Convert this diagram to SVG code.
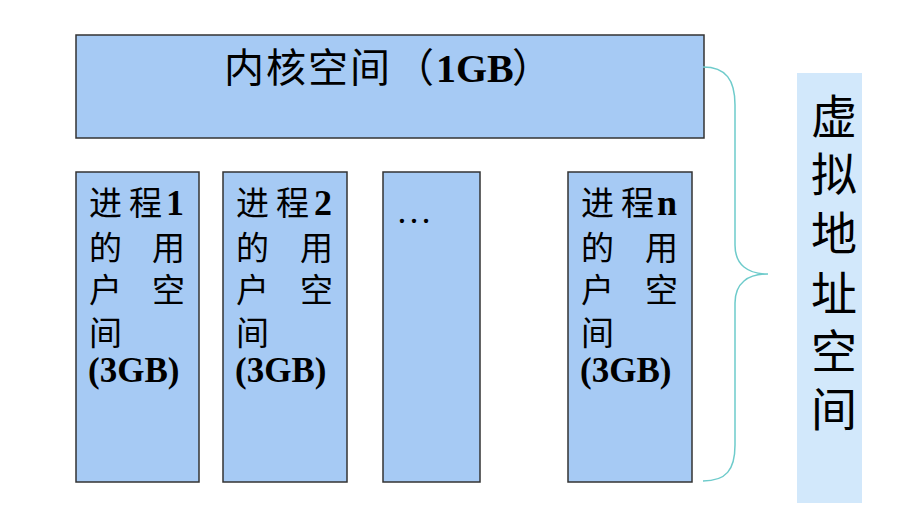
<svg xmlns="http://www.w3.org/2000/svg" width="922" height="528" viewBox="0 0 922 528">
<style>
.box{fill:#a6caf4;stroke:#333;stroke-width:1.5}
.t{font-family:"Liberation Serif","Noto Sans CJK SC",serif;fill:#000}
.p{font-size:33px}
.b{font-weight:bold}
.n{font-size:36px;font-weight:bold}
.g{font-size:35px;font-weight:bold}
</style>
<rect width="922" height="528" fill="#fff"/>
<g id="kernel">
<rect class="box" x="76" y="35" width="628" height="103"/>
<text class="t" y="82" font-size="40"><tspan x="224">内</tspan><tspan x="266">核</tspan><tspan x="308">空</tspan><tspan x="350">间</tspan><tspan x="394">（</tspan><tspan x="436" class="b">1GB</tspan><tspan x="512">）</tspan></text>
</g>
<g id="proc1">
<rect class="box" x="76" y="172" width="123" height="310"/>
<text class="t p" y="215"><tspan x="89">进</tspan><tspan x="129">程</tspan><tspan x="166" class="n">1</tspan></text>
<text class="t p" x="89" y="260">的</text><text class="t p" x="185" y="260" text-anchor="end">用</text>
<text class="t p" x="89" y="302">户</text><text class="t p" x="185" y="302" text-anchor="end">空</text>
<text class="t p" x="89" y="345">间</text>
<text class="t g" x="88" y="382">(3GB)</text>
</g>
<g id="proc2">
<rect class="box" x="223" y="172" width="124" height="310"/>
<text class="t p" y="215"><tspan x="236">进</tspan><tspan x="276">程</tspan><tspan x="314" class="n">2</tspan></text>
<text class="t p" x="236" y="260">的</text><text class="t p" x="333" y="260" text-anchor="end">用</text>
<text class="t p" x="236" y="302">户</text><text class="t p" x="333" y="302" text-anchor="end">空</text>
<text class="t p" x="236" y="345">间</text>
<text class="t g" x="235" y="382">(3GB)</text>
</g>
<g id="procdots">
<rect class="box" x="383" y="172" width="97" height="310"/>
<text class="t" x="396" y="223" font-size="36">…</text>
</g>
<g id="procn">
<rect class="box" x="568" y="172" width="124" height="310"/>
<text class="t p" y="215"><tspan x="581">进</tspan><tspan x="621">程</tspan><tspan x="657" class="n">n</tspan></text>
<text class="t p" x="581" y="260">的</text><text class="t p" x="678" y="260" text-anchor="end">用</text>
<text class="t p" x="581" y="302">户</text><text class="t p" x="678" y="302" text-anchor="end">空</text>
<text class="t p" x="581" y="345">间</text>
<text class="t g" x="580" y="382">(3GB)</text>
</g>
<g id="connectors">
<path d="M703,67 C726,67 735,80 735,105 L735,245 C735,265 748,274 768,274 C748,274 735,283 735,303 L735,445 C735,470 726,481 703,481" fill="none" stroke="#6ecbcb" stroke-width="1.5"/>
</g>
<g id="vas">
<rect x="797" y="73" width="65" height="430" fill="#d2e8fb"/>
<g class="t" font-size="46" text-anchor="middle">
<text x="834" y="133">虚</text>
<text x="834" y="191">拟</text>
<text x="834" y="250">地</text>
<text x="834" y="310">址</text>
<text x="834" y="368">空</text>
<text x="834" y="426">间</text>
</g>
</g>
</svg>
